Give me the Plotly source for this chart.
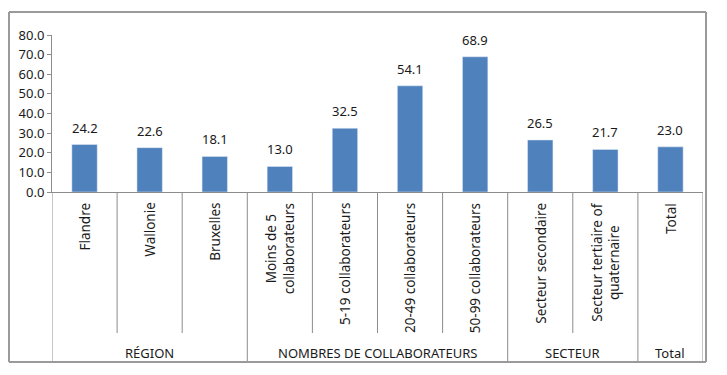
import plotly.graph_objects as go

categories = ["Flandre", "Wallonie", "Bruxelles", "Moins de 5<br>collaborateurs",
              "5-19 collaborateurs", "20-49 collaborateurs", "50-99 collaborateurs",
              "Secteur secondaire", "Secteur tertiaire of<br>quaternaire", "Total"]
values = [24.2, 22.6, 18.1, 13.0, 32.5, 54.1, 68.9, 26.5, 21.7, 23.0]
group_names = ["RÉGION", "NOMBRES DE COLLABORATEURS", "SECTEUR", "Total"]
group_sizes = [3, 4, 2, 1]
y_ticks = [0, 10, 20, 30, 40, 50, 60, 70, 80]

OFF = 8  # default body margin of the page
W, H = 727 - OFF, 375 - OFF
L, R, T, B = 52 - OFF, 24, 35 - OFF, 183
PW, PH = W - L - R, H - T - B
FONT = "Noto Sans"
TXT = "#1a1a1a"
LINE = "#8c8c8c"

def px_x(p):
    return (p - OFF - L) / PW

def px_y(p):
    return (H - B - (p - OFF)) / PH

idx = list(range(len(categories)))

fig = go.Figure(go.Bar(x=idx, y=values, marker_color="#4f81bd", width=0.39,
                       hoverinfo="skip"))

ann = []
shapes = []
for i, v in zip(idx, values):
    ann.append(dict(x=i, y=v, xref="x", yref="y", text=f"{v:.1f}", showarrow=False,
                    yanchor="bottom", yshift=6, font=dict(family=FONT, size=13, color=TXT)))
for i, c in zip(idx, categories):
    ann.append(dict(x=i, y=px_y(201), xref="x", yref="paper", text=c, showarrow=False,
                    textangle=-90, yanchor="top", xanchor="center", align="center",
                    font=dict(family=FONT, size=13.5, color=TXT)))
start = 0
bounds = [-0.5]
for g, n in zip(group_names, group_sizes):
    end = start + n
    for k in range(start + 1, end):
        shapes.append(dict(type="line", xref="x", yref="paper", x0=k - 0.5, x1=k - 0.5,
                           y0=0, y1=px_y(333), line=dict(color=LINE, width=1)))
    bounds.append(end - 0.5)
    ann.append(dict(x=(start + end - 1) / 2, y=px_y(353), xref="x", yref="paper", text=g,
                    showarrow=False, yanchor="middle",
                    font=dict(family=FONT, size=13, color=TXT)))
    start = end
for b in bounds:
    shapes.append(dict(type="line", xref="x", yref="paper", x0=b, x1=b,
                       y0=0, y1=px_y(362), line=dict(color=LINE, width=1)))
# outer chart border as four lines
BC = "#9a9a9a"
xl, xr, yt, yb = px_x(9), px_x(706), px_y(12), px_y(362)
for x0, y0, x1, y1 in [(xl, yt, xr, yt), (xl, yb, xr, yb), (xl, yt, xl, yb), (xr, yt, xr, yb)]:
    shapes.append(dict(type="line", xref="paper", yref="paper", x0=x0, y0=y0, x1=x1, y1=y1,
                       line=dict(color=BC, width=2)))

fig.update_layout(
    width=W, height=H, margin=dict(l=L, r=R, t=T, b=B),
    plot_bgcolor="white", paper_bgcolor="white", showlegend=False,
    annotations=ann, shapes=shapes,
    xaxis=dict(range=[-0.5, len(categories) - 0.5], showticklabels=False, showgrid=False,
               zeroline=False, showline=True, linecolor=LINE, linewidth=1, ticks=""),
    yaxis=dict(range=[0, 80], tickvals=y_ticks, tickformat=".1f", showgrid=False,
               zeroline=False, showline=True, linecolor=LINE, linewidth=1,
               ticks="outside", ticklen=4, tickcolor=LINE,
               tickfont=dict(family=FONT, size=13, color=TXT)),
)
fig.write_html("out.html")
